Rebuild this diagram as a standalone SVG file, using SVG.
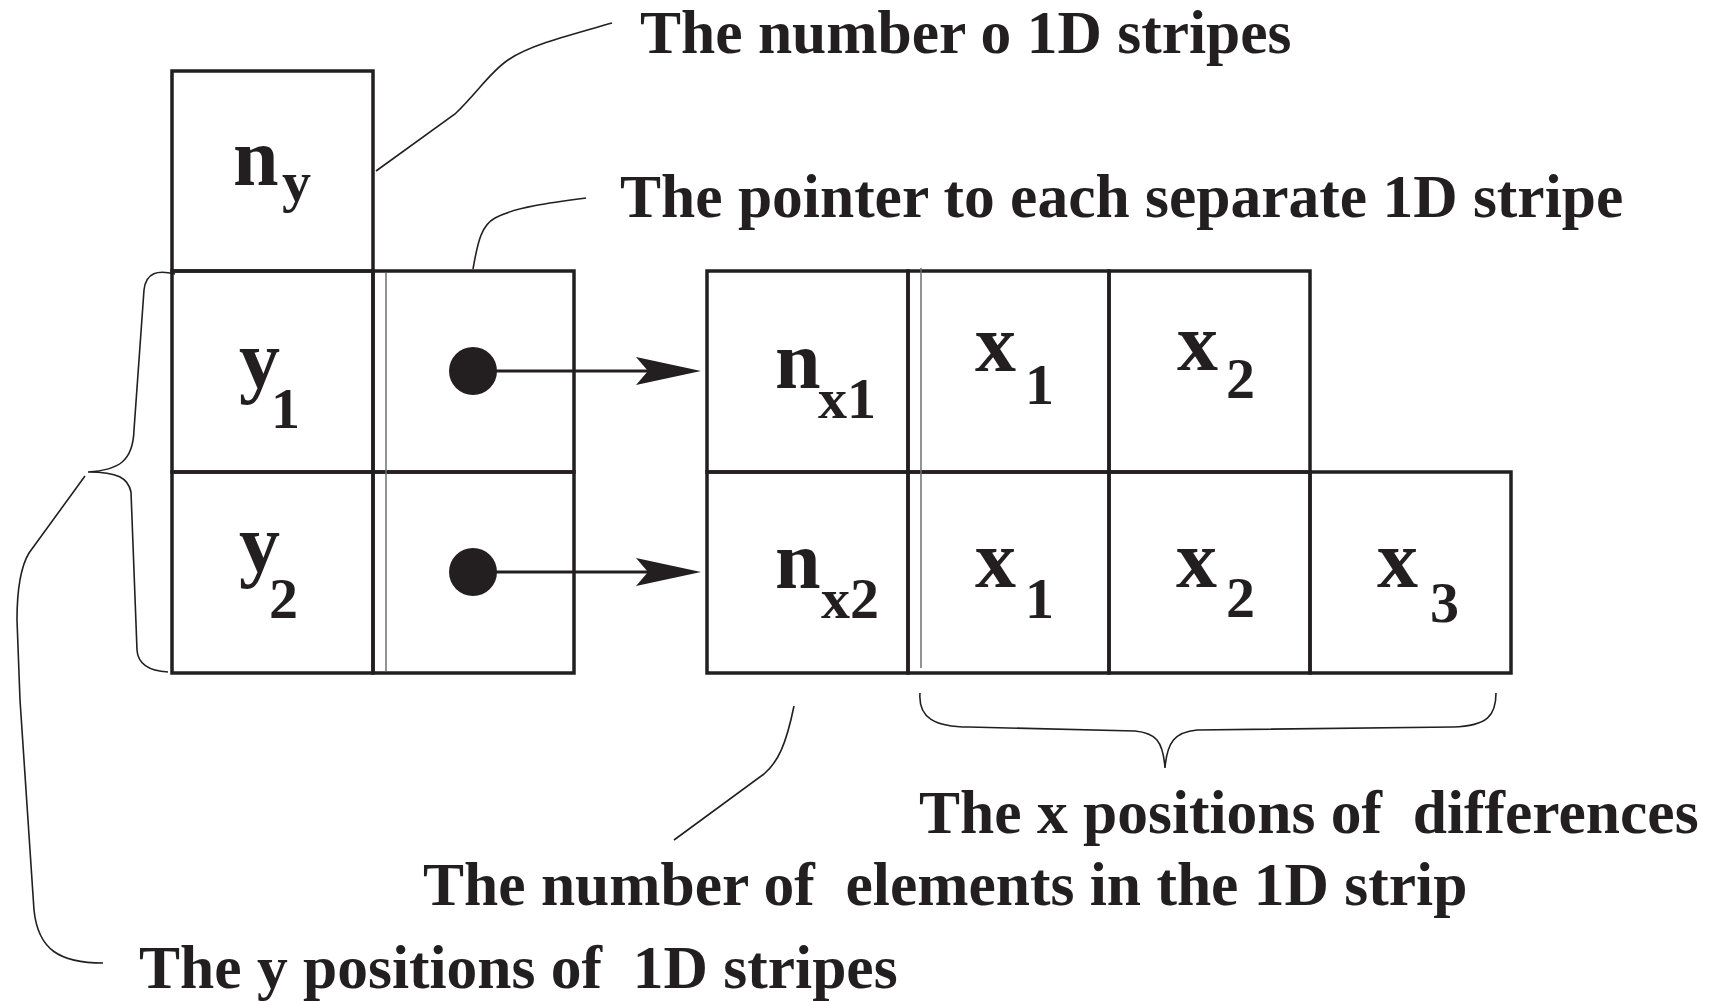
<svg xmlns="http://www.w3.org/2000/svg" width="1715" height="1001" viewBox="0 0 1715 1001">
<style>
.cell{fill:none;stroke:#231f20;stroke-width:3.5}
.thin{stroke:#6d6e71;stroke-width:1.5;fill:none}
.lead{fill:none;stroke:#231f20;stroke-width:1.6}
.ptr{stroke:#231f20;stroke-width:3;fill:none}
.dot{fill:#231f20}
text{font-family:"Liberation Serif","Times New Roman",serif;font-weight:bold;fill:#231f20;white-space:pre}
.lbl{font-size:61.5px}
.m{font-size:82px}
.s{font-size:58px}
</style>
<defs>
<marker id="ah" viewBox="0 0 65 28" refX="54" refY="14" markerWidth="65" markerHeight="28" markerUnits="userSpaceOnUse" orient="auto">
<path d="M65,14 L0,0 L12,14 L0,28 Z" fill="#231f20"/>
</marker>
</defs>
<rect x="0" y="0" width="1715" height="1001" fill="#ffffff"/>

<g id="connectors">
<path class="ptr" d="M473,371 L690,371" marker-end="url(#ah)"/>
<path class="ptr" d="M473,572 L690,572" marker-end="url(#ah)"/>
<path class="lead" d="M376,171 L455,114 C478,92 490,72 508,60 C530,45 570,35 612,23"/>
<path class="lead" d="M473,269 C478,240 482,225 495,218 C515,207 555,202 586,198"/>
<path class="lead" d="M175,274 C158,270 146,272 144,290 L134,430 C133,462 118,470 88,472 C118,472 128,478 131,492 L137,650 C138,665 150,671 168,672"/>
<path class="lead" d="M85,476 L29,553 C20,568 17,590 17,620 L20,700 L34,910 C38,950 60,963 103,963"/>
<path class="lead" d="M794,706 C786,745 778,762 764,774 L674,840"/>
<path class="lead" d="M920,693 C918,718 935,727 969,727 L1135,731 C1155,733 1163,740 1165,768 C1167,742 1175,732 1197,730 L1453,727 C1488,726 1496,715 1496,693"/>
</g>

<g id="node-ny">
<rect class="cell" x="172" y="71" width="201" height="200"/>
<text class="m" x="233" y="185">n</text><text class="s" x="282" y="201">y</text>
</g>
<g id="node-y1">
<rect class="cell" x="172" y="271" width="201" height="201"/>
<text class="m" x="239" y="387">y</text><text class="s" x="271" y="428">1</text>
</g>
<g id="node-y2">
<rect class="cell" x="172" y="472" width="201" height="201"/>
<text class="m" x="239" y="571">y</text><text class="s" x="269" y="618">2</text>
</g>
<g id="node-p1">
<rect class="cell" x="373" y="271" width="201" height="201"/>
<circle class="dot" cx="473" cy="371" r="24"/>
</g>
<g id="node-p2">
<rect class="cell" x="373" y="472" width="201" height="201"/>
<circle class="dot" cx="473" cy="572" r="24"/>
</g>
<line class="thin" x1="386" y1="273" x2="386" y2="671"/>

<g id="node-nx1">
<rect class="cell" x="707" y="271" width="201" height="201"/>
<text class="m" x="775" y="388">n</text><text class="s" x="818" y="418">x1</text>
</g>
<g id="node-r1x1">
<rect class="cell" x="908" y="271" width="201" height="201"/>
<text class="m" x="975" y="371">x</text><text class="s" x="1025" y="404">1</text>
</g>
<g id="node-r1x2">
<rect class="cell" x="1109" y="271" width="201" height="201"/>
<text class="m" x="1177" y="370">x</text><text class="s" x="1226" y="398">2</text>
</g>
<g id="node-nx2">
<rect class="cell" x="707" y="472" width="201" height="201"/>
<text class="m" x="775" y="588">n</text><text class="s" x="821" y="618">x2</text>
</g>
<g id="node-r2x1">
<rect class="cell" x="908" y="472" width="201" height="201"/>
<text class="m" x="975" y="587">x</text><text class="s" x="1025" y="618">1</text>
</g>
<g id="node-r2x2">
<rect class="cell" x="1109" y="472" width="201" height="201"/>
<text class="m" x="1176" y="587">x</text><text class="s" x="1226" y="617">2</text>
</g>
<g id="node-r2x3">
<rect class="cell" x="1310" y="472" width="201" height="201"/>
<text class="m" x="1377" y="587">x</text><text class="s" x="1430" y="622">3</text>
</g>
<line class="thin" x1="921" y1="268" x2="921" y2="668"/>

<g id="label-ny"><text class="lbl" x="640" y="53">The number o 1D stripes</text></g>
<g id="label-ptr"><text class="lbl" x="620" y="217">The pointer to each separate 1D stripe</text></g>
<g id="label-x"><text class="lbl" x="919" y="833">The x positions of  differences</text></g>
<g id="label-nx"><text class="lbl" x="423" y="905">The number of  elements in the 1D strip</text></g>
<g id="label-y"><text class="lbl" x="139" y="988">The y positions of  1D stripes</text></g>
</svg>
